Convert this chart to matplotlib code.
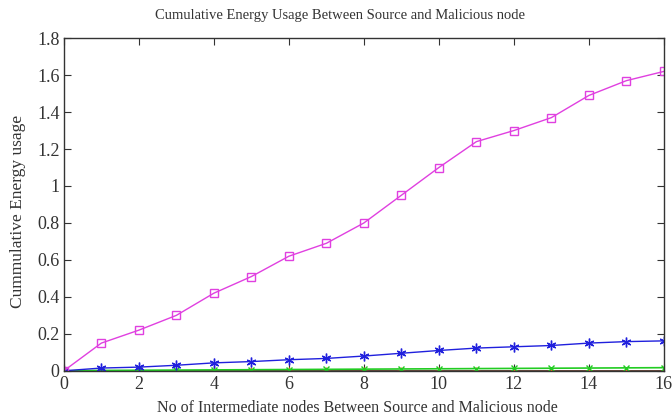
import matplotlib
matplotlib.use("Agg")
import matplotlib.pyplot as plt

plt.rcParams['font.family'] = ['Liberation Serif', 'DejaVu Serif']

x = list(range(17))
magenta = [0, 0.15, 0.22, 0.30, 0.42, 0.51, 0.62, 0.69, 0.80, 0.95, 1.10, 1.24, 1.30, 1.37, 1.49, 1.57, 1.62]
blue = [0, 0.015, 0.02, 0.03, 0.043, 0.05, 0.06, 0.067, 0.08, 0.095, 0.11, 0.123, 0.13, 0.137, 0.15, 0.158, 0.162]
green = [0, 0.002, 0.003, 0.004, 0.005, 0.006, 0.007, 0.008, 0.009, 0.010, 0.011, 0.012, 0.013, 0.014, 0.015, 0.016, 0.017]
red = [0] * 17
black = [0] * 17

fig = plt.figure(figsize=(6.72, 4.19), dpi=100)
ax = fig.add_axes([0.095, 0.115, 0.893, 0.794])

ax.plot(x, black, color='#202020', lw=1.2)
ax.plot(x, red, color='#ff6020', lw=1.0, marker='+', ms=6, mew=1.0)
ax.plot(x, green, color='#22cc22', lw=1.2, marker='x', ms=5, mew=1.0)
ax.plot(x, blue, color='#2020dd', lw=1.0, marker=(6, 2, 0), ms=7, mew=1.0)
ax.plot(x, magenta, color='#e040e0', lw=1.0, marker='s', ms=6, mfc='none', mew=1.0)

ax.set_xlim(0, 16)
ax.set_ylim(0, 1.8)
ax.set_xticks(range(0, 17, 2))
ax.set_yticks([0, 0.2, 0.4, 0.6, 0.8, 1, 1.2, 1.4, 1.6, 1.8])
ax.set_yticklabels(['0', '0.2', '0.4', '0.6', '0.8', '1', '1.2', '1.4', '1.6', '1.8'])
ax.tick_params(direction='in', top=True, right=True, labelsize=13, colors='#333333', length=5)
ax.tick_params(axis='y', pad=3)
ax.tick_params(axis='x', pad=4)
for s in ax.spines.values():
    s.set_color('#333333')
    s.set_linewidth(1.0)

fig.text(340 / 672, 1 - 16 / 419, 'Cumulative Energy Usage Between Source and Malicious node',
         fontsize=10.5, color='#333333', ha='center', va='center')
fig.text(357 / 672, 1 - 408 / 419, 'No of Intermediate nodes Between Source and Malicious node',
         fontsize=11.5, color='#333333', ha='center', va='center')
fig.text(18 / 672, 1 - 211 / 419, 'Cummulative Energy usage',
         fontsize=12.5, color='#333333', ha='center', va='center', rotation=90)

fig.savefig('out.png', dpi=100)
